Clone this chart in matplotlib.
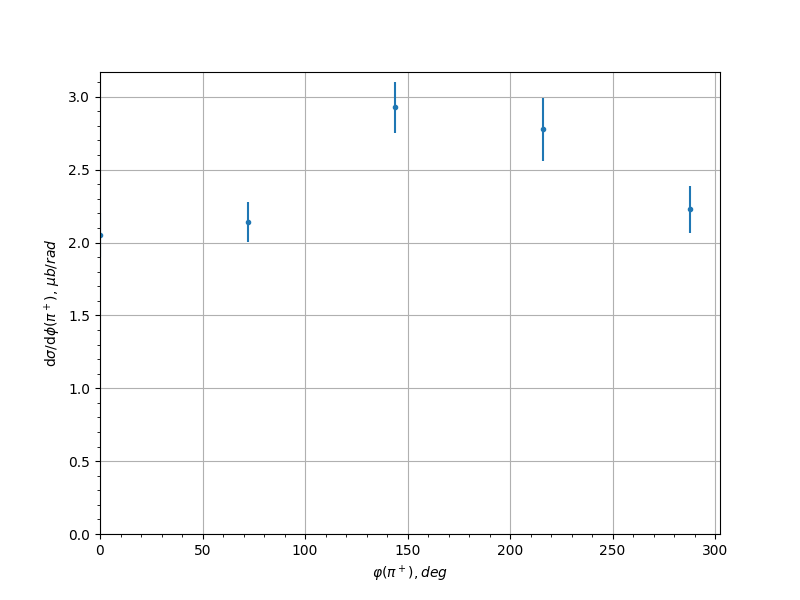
import matplotlib
matplotlib.use('Agg')
import matplotlib.pyplot as plt

phi = [0, 72, 144, 216, 288]
xsec = [2.053, 2.14, 2.929, 2.778, 2.229]
xsec_err = [0.15, 0.137, 0.175, 0.216, 0.162]

fig = plt.figure(figsize=(8, 6), dpi=100)
ax = fig.add_subplot(111)
ax.errorbar(phi, xsec, yerr=xsec_err, fmt='.')
ax.set_xlim(left=0)
ax.set_ylim(0, 3.17)
ax.minorticks_on()
ax.grid(True)
ax.set_xlabel(r'$\varphi(\pi^+), deg$')
ax.set_ylabel(r'd$\sigma$/d$\phi$($\pi^+$), $\mu b/rad$')
fig.savefig('out.png')
